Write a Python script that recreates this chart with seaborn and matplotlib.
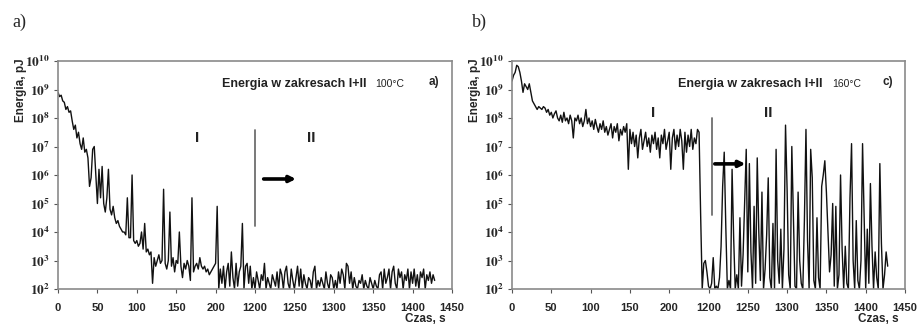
import numpy as np
import pandas as pd
import matplotlib
matplotlib.use("Agg")
import matplotlib.pyplot as plt
import seaborn as sns

# ---------------- data ----------------
# x tick labels (axis is broken between 200 and 1200 s; positions are evenly spaced)
tick_labels = ["0", "50", "100", "150", "200", "1200", "1250", "1300", "1350", "1400", "1450"]
tick_pos = [0, 50, 100, 150, 200, 250, 300, 350, 400, 450, 500]

# sample positions on the axis (2 units per sample)
pos = np.arange(0, 480, 2)

# panel a) 100 C : log10(energy, pJ)
a_log = [
    8.9, 8.75, 8.8, 8.6, 8.55, 8.3, 8.4, 8.2, 8.25, 7.9,
    7.6, 7.75, 7.3, 7.5, 7.1, 6.9, 7.3, 6.8, 6.9, 6.6,
    5.6, 5.9, 6.9, 7.0, 6.0, 5.0, 6.2, 5.2, 6.3, 5.0,
    4.7, 5.2, 6.2, 4.8, 4.6, 4.9, 4.5, 4.3, 4.4, 4.2,
    4.1, 4.0, 4.0, 3.9, 5.2, 3.8, 3.8, 6.0, 3.7, 3.6,
    3.7, 3.5, 3.6, 4.0, 3.4, 4.3, 3.3, 3.4, 3.2, 3.3,
    2.2, 3.1, 2.8, 3.0, 3.2, 2.9, 3.0, 5.5, 2.9, 2.7,
    3.0, 4.7, 2.8, 3.1, 2.6, 3.0, 2.9, 4.0, 2.8, 2.4,
    2.9, 2.7, 3.0, 2.8, 2.3, 5.2, 2.6, 2.8, 2.9, 2.7,
    3.1, 2.8, 2.7, 2.8, 2.6, 2.7, 2.5, 2.6, 2.7, 2.8,
    2.9, 4.9, 2.0, 2.7, 2.2, 2.8, 2.0, 2.6, 2.9, 2.1,
    3.3, 2.4, 2.0, 2.9, 2.1, 2.6, 2.8, 4.3, 2.0, 2.8,
    2.9, 2.2, 2.8, 2.0, 2.4, 2.0, 2.6, 2.3, 2.0, 2.5,
    2.3, 2.9, 2.0, 2.4, 2.2, 2.0, 2.5, 2.3, 2.1, 2.6,
    2.0, 2.7, 2.5, 2.0, 2.6, 2.8, 2.2, 2.0, 2.7, 2.3,
    2.0, 2.4, 2.8, 2.1, 2.7, 2.0, 2.5, 2.2, 2.0, 2.4,
    2.3, 2.0, 2.6, 2.8, 2.0, 2.3, 2.1, 2.4, 2.2, 2.0,
    2.6, 2.2, 2.0, 2.5, 2.4, 2.0, 2.3, 2.0, 2.6, 2.2,
    2.7, 2.5, 2.0, 2.9, 2.8, 2.2, 2.6, 2.0, 2.4, 2.1,
    2.0, 2.3, 2.2, 2.5, 2.0, 2.3, 2.1, 2.0, 2.4, 2.2,
    2.0, 2.3, 2.1, 2.0, 2.5, 2.6, 2.0, 2.7, 2.2, 2.4,
    2.7, 2.0, 2.6, 2.8, 2.2, 2.0, 2.7, 2.4, 2.6, 2.0,
    2.5, 2.3, 2.7, 2.0, 2.6, 2.2, 2.7, 2.1, 2.5, 2.0,
    2.6, 2.4, 2.7, 2.0, 2.5, 2.3, 2.6, 2.2, 2.5, 2.3,
]

# panel b) 160 C : log10(energy, pJ)
b_log = [
    9.3, 9.5, 9.6, 9.85, 9.8, 9.6, 9.3, 8.9, 9.2, 9.1,
    9.0, 9.2, 8.9, 8.6, 8.5, 8.4, 8.3, 8.4, 8.35, 8.3,
    8.4, 8.35, 8.2, 8.3, 8.1, 8.2, 8.0, 8.15, 8.25, 8.0,
    7.9, 8.1, 7.85, 8.2, 7.9, 8.0, 7.8, 8.1, 7.9, 7.3,
    8.0, 7.9, 8.1, 7.8, 8.0, 7.7, 7.9, 8.3, 7.8, 8.0,
    7.7, 7.9, 7.6, 7.95, 7.7, 7.5, 7.8, 7.6, 7.9, 7.5,
    7.7, 7.4, 7.6, 7.8, 7.3, 7.7, 7.5, 7.8, 7.2, 7.6,
    7.4, 7.7, 7.5, 7.8, 6.2, 7.6, 7.1, 7.5, 7.0, 7.4,
    6.6, 7.3, 7.6, 6.9, 7.2, 7.5, 7.0, 7.3, 6.8, 7.4,
    7.1, 7.5, 6.9, 7.3, 6.6, 7.4, 7.1, 7.6, 6.9, 7.2,
    7.5, 6.2, 7.3, 7.6, 6.9, 7.4, 7.0, 7.6, 7.2, 6.2,
    7.5, 6.8, 7.4, 7.0, 7.6, 6.9, 7.3, 7.1, 7.6, 7.5,
    4.6, 2.0, 2.9, 3.0, 2.6, 2.1, 2.0, 2.2, 3.1, 2.0,
    2.1, 2.0, 2.4, 3.5, 5.6, 6.8, 4.2, 2.0, 2.3, 2.0,
    6.2, 3.8, 2.0, 2.5, 2.0, 4.5, 2.1, 3.2, 5.1, 6.9,
    2.6, 6.4, 3.3, 2.0, 4.9, 2.2, 6.6, 4.0, 2.3, 5.4,
    2.0, 2.7, 3.9, 5.9, 2.4, 2.0, 4.3, 2.0, 6.9, 3.0,
    2.2, 4.1, 2.0, 3.4, 7.75, 5.5, 2.5, 2.0, 7.0, 4.6,
    2.1, 2.0, 5.4, 3.0, 2.2, 2.0, 4.4, 7.6, 3.7, 2.0,
    6.9, 5.9, 2.3, 2.0, 4.5, 2.4, 2.0, 5.6, 6.0, 6.5,
    5.4, 4.0, 2.6, 3.2, 5.0, 2.1, 4.9, 2.0, 2.5, 6.0,
    3.4, 2.0, 3.5, 2.2, 2.0, 5.2, 7.1, 3.0, 2.0, 4.4,
    2.3, 2.0, 3.0, 7.1, 4.6, 2.0, 4.1, 2.2, 5.7, 3.5,
    2.0, 3.3, 2.4, 2.0, 6.4, 3.6, 2.0, 2.5, 3.3, 2.8,
]

titles = ["Energia w zakresach I+II", "Energia w zakresach I+II"]
temps = ["100\u00b0C", "160\u00b0C"]
inner_tags = ["a)", "c)"]
outer_tags = ["a)", "b)"]

# annotation geometry (axis position, log10 energy)
sep_pos = [249.5, 254.5]
sep_range = [(4.22, 7.58), (4.6, 8.0)]
arrow_x = [(261, 302), (258, 297)]
arrow_y = [5.86, 6.39]
zone_y = [7.3, 8.16]
zone_I_x = [176, 180]
zone_II_x = [322, 326]
title_right_x = [391, 395]
temp_left_x = [402, 407]
title_y = [9.19, 9.19]

# ---------------- plot ----------------
sns.set_theme(style="white")
plt.rcParams["font.family"] = ["Liberation Sans", "DejaVu Sans"]
plt.rcParams["mathtext.fontset"] = "stix"

fig = plt.figure(figsize=(9.17, 3.29), dpi=100)
axes = [fig.add_axes([58 / 917, 1 - 289 / 329, 394 / 917, 228 / 329]),
        fig.add_axes([512 / 917, 1 - 289 / 329, 393 / 917, 228 / 329])]

series = [a_log, b_log]
spine_col = "#8a8a8a"

for i, ax in enumerate(axes):
    df = pd.DataFrame({"pos": pos, "energy": 10.0 ** np.array(series[i])})
    sns.lineplot(data=df, x="pos", y="energy", ax=ax, color="#111111",
                 linewidth=1.0, estimator=None, sort=False)
    ax.set_yscale("log")
    ax.set_ylim(1e2, 1e10)
    ax.set_xlim(0, 500)
    ax.set_xticks(tick_pos)
    ax.set_xticklabels(tick_labels, fontsize=8, fontweight="bold")
    yt = [10.0 ** k for k in range(2, 11)]
    ax.set_yticks(yt)
    ax.set_yticklabels([r"$\mathbf{10^{%d}}$" % k for k in range(2, 11)], fontsize=9.5)
    ax.yaxis.set_minor_locator(matplotlib.ticker.NullLocator())
    ax.tick_params(axis="both", which="major", direction="out", length=3,
                   width=0.8, color="#555555", bottom=True, left=True)
    ax.tick_params(axis="x", pad=7)
    ax.tick_params(axis="y", pad=3)
    for s in ax.spines.values():
        s.set_color(spine_col)
        s.set_linewidth(1.2)
    ax.set_xlabel("")
    ax.set_ylabel("")

    # axis labels
    ax.text(-0.095, 0.87, "Energia, pJ", transform=ax.transAxes, rotation=90,
            ha="center", va="center", fontsize=8.5, fontweight="bold")
    ax.text(0.985, -0.13, "Czas, s", transform=ax.transAxes, ha="right",
            va="center", fontsize=8.5, fontweight="bold")

    # separator line and arrow
    ax.plot([sep_pos[i], sep_pos[i]], [10 ** sep_range[i][0], 10 ** sep_range[i][1]],
            color="#6e6e6e", linewidth=1.3)
    ax.annotate("", xy=(arrow_x[i][1], 10 ** arrow_y[i]),
                xytext=(arrow_x[i][0], 10 ** arrow_y[i]),
                arrowprops=dict(arrowstyle="-|>", lw=2.6, color="black",
                                mutation_scale=9, shrinkA=0, shrinkB=0))

    # zone labels
    ax.text(zone_I_x[i], 10 ** zone_y[i], "I", ha="center", va="center",
            fontsize=11, fontweight="bold", color="#222222")
    ax.text(zone_II_x[i], 10 ** zone_y[i], "II", ha="center", va="center",
            fontsize=11, fontweight="bold", color="#222222")

    # title inside
    ax.text(title_right_x[i], 10 ** title_y[i], titles[i], ha="right", va="center",
            fontsize=9, fontweight="bold", color="#222222")
    ax.text(temp_left_x[i], 10 ** title_y[i], temps[i], ha="left", va="center",
            fontsize=7.5, color="#222222")
    ax.text(0.955, 0.91, inner_tags[i], transform=ax.transAxes, ha="center",
            va="center", fontsize=8.5, fontweight="bold")

fig.text(12 / 917, 1 - 22 / 329, outer_tags[0], ha="left", va="center",
         fontsize=13, family=["Liberation Serif", "DejaVu Serif"])
fig.text(472 / 917, 1 - 22 / 329, outer_tags[1], ha="left", va="center",
         fontsize=13, family=["Liberation Serif", "DejaVu Serif"])

fig.savefig("out.png", dpi=100, facecolor="white")
